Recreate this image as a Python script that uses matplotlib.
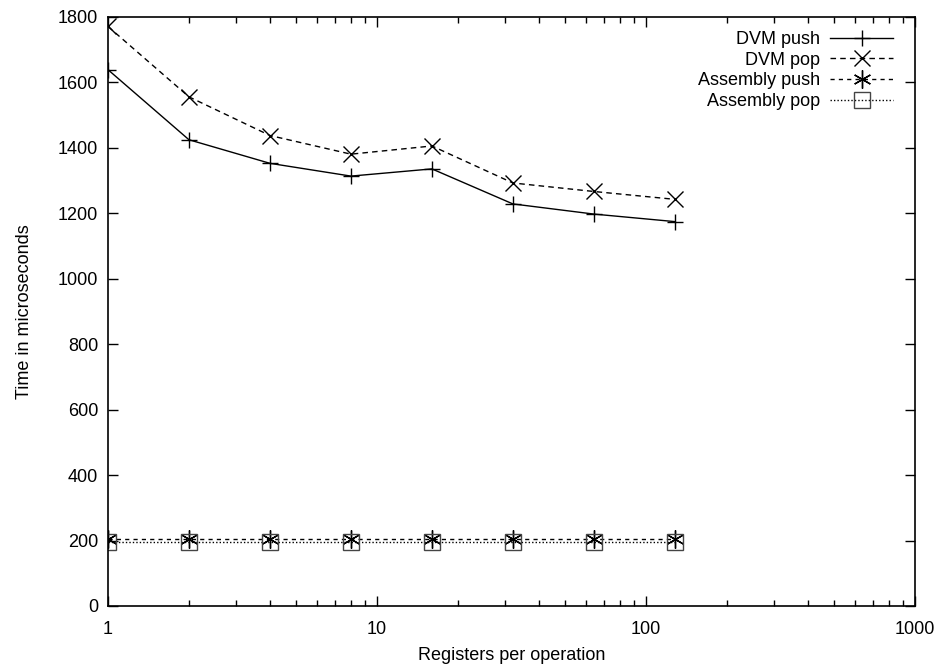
import matplotlib
matplotlib.use("Agg")
import matplotlib.pyplot as plt
from matplotlib.ticker import LogLocator, FixedLocator, NullFormatter

plt.rcParams['font.family'] = ['Liberation Sans', 'DejaVu Sans']

# registers per operation
regs = [1, 2, 4, 8, 16, 32, 64, 128]

# time in microseconds
dvm_push = [1638, 1424, 1352, 1313, 1335, 1228, 1197, 1174]
dvm_pop = [1770, 1555, 1437, 1380, 1405, 1292, 1266, 1242]
asm_push = [205, 205, 205, 205, 205, 205, 205, 205]
asm_pop = [196, 196, 196, 196, 196, 196, 196, 196]

fs = 13

fig = plt.figure(figsize=(9.44, 6.66), dpi=100)
ax = fig.add_axes([0.1144, 0.0901, 0.8549, 0.8849])

ax.plot(regs, dvm_push, color='black', lw=1.0, marker='+', ms=12, mew=1.0,
        label='DVM push')
ax.plot(regs, dvm_pop, color='black', lw=1.0, ls=(0, (4, 3)), marker='x',
        ms=12, mew=1.0, label='DVM pop')
ax.plot(regs, asm_push, color='black', lw=1.0, ls=(0, (3, 3)), marker=(6, 2, 0),
        ms=13, mew=1.0, label='Assembly push')
ax.plot(regs, asm_pop, color='black', lw=1.0, ls=(0, (1, 1.5)), marker='s',
        ms=11, mew=1.0, mfc='none', mec='#444444', label='Assembly pop')

ax.set_xscale('log')
ax.set_xlim(1, 1000)
ax.set_ylim(0, 1800)
ax.set_yticks(range(0, 1801, 200))
ax.xaxis.set_major_locator(FixedLocator([1, 10, 100, 1000]))
ax.xaxis.set_minor_locator(LogLocator(base=10, subs=range(2, 10)))
ax.xaxis.set_minor_formatter(NullFormatter())
ax.set_xticklabels(['1', '10', '100', '1000'])

ax.tick_params(which='both', direction='in', top=True, right=True, labelsize=fs)
ax.tick_params(which='major', length=7, width=1.0, pad=7)
ax.tick_params(axis='x', which='major', pad=11)
ax.tick_params(which='minor', length=4, width=1.0)
for s in ax.spines.values():
    s.set_linewidth(1.2)

ax.set_xlabel('Registers per operation', fontsize=fs, labelpad=6)
ax.set_ylabel('Time in microseconds', fontsize=fs, labelpad=18)

ax.legend(loc='upper right', bbox_to_anchor=(0.991, 1.0), frameon=False,
          markerfirst=False, fontsize=fs, handlelength=3.5, borderaxespad=0.5,
          labelspacing=0.2, handletextpad=0.55, borderpad=0.3)

fig.savefig('out.png', dpi=100)
